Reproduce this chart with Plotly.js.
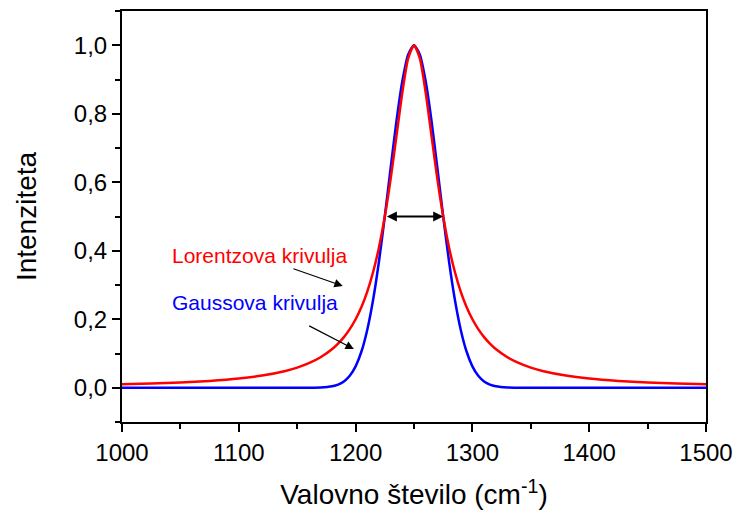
<!DOCTYPE html>
<html>
<head>
<meta charset="utf-8">
<script src="https://cdn.plot.ly/plotly-3.0.1.min.js"></script>
<style>
  html, body { margin: 0; padding: 0; background: #fff; }
  #chart { width: 737px; height: 515px; }
</style>
</head>
<body>
<div id="chart"></div>
<script>
// Wavenumber grid (cm^-1)
const wavenumber = [
  1000, 1025, 1050, 1075, 1100, 1120, 1140, 1150, 1160, 1170, 1180, 1185, 1190, 1195,
  1200, 1205, 1210, 1215, 1220, 1225, 1230, 1235, 1240, 1245, 1250,
  1255, 1260, 1265, 1270, 1275, 1280, 1285, 1290, 1295, 1300,
  1305, 1310, 1315, 1320, 1330, 1340, 1350, 1360, 1380, 1400, 1425, 1450, 1475, 1500
];

// Lorentzian profile intensity
const lorentz = [
  0.0099, 0.0122, 0.0154, 0.0200, 0.0270, 0.0357, 0.0491, 0.0588, 0.0716, 0.0890, 0.1131, 0.1289, 0.1479, 0.1712,
  0.2000, 0.2358, 0.2809, 0.3378, 0.4098, 0.5000, 0.6098, 0.7353, 0.8621, 0.9615, 1.0000,
  0.9615, 0.8621, 0.7353, 0.6098, 0.5000, 0.4098, 0.3378, 0.2809, 0.2358, 0.2000,
  0.1712, 0.1479, 0.1289, 0.1131, 0.0890, 0.0716, 0.0588, 0.0491, 0.0357, 0.0270, 0.0200, 0.0154, 0.0122, 0.0099
];

// Gaussian profile intensity
const gauss = [
  0, 0, 0, 0, 0, 0, 0, 0, 0.0001, 0.0008, 0.0044, 0.0092, 0.0184, 0.0349,
  0.0625, 0.1058, 0.1696, 0.2570, 0.3686, 0.5000, 0.6417, 0.7792, 0.8950, 0.9727, 1.0000,
  0.9727, 0.8950, 0.7792, 0.6417, 0.5000, 0.3686, 0.2570, 0.1696, 0.1058, 0.0625,
  0.0349, 0.0184, 0.0092, 0.0044, 0.0008, 0.0001, 0, 0, 0, 0, 0, 0, 0, 0
];

const xTicks = [1000, 1100, 1200, 1300, 1400, 1500];
const yTicks = [0.0, 0.2, 0.4, 0.6, 0.8, 1.0];

const font = "Arial, 'Liberation Sans', sans-serif";

const traces = [
  {
    x: wavenumber, y: gauss, type: 'scatter', mode: 'lines',
    line: { color: '#0000ff', width: 2.5, shape: 'spline', smoothing: 0.6 },
    hoverinfo: 'skip'
  },
  {
    x: wavenumber, y: lorentz, type: 'scatter', mode: 'lines',
    line: { color: '#ff0000', width: 2.5, shape: 'spline', smoothing: 0.6 },
    hoverinfo: 'skip'
  }
];

const axisCommon = {
  showgrid: false, zeroline: false,
  showline: true, linecolor: '#000', linewidth: 2, mirror: true,
  ticks: 'outside', ticklen: 8, tickwidth: 2, tickcolor: '#000',
  tickfont: { family: font, size: 24, color: '#000' }
};

const layout = {
  width: 737, height: 515,
  margin: { l: 122, r: 31, t: 11, b: 93 },
  paper_bgcolor: '#fff', plot_bgcolor: '#fff',
  showlegend: false,
  separators: ',.',
  xaxis: Object.assign({}, axisCommon, {
    range: [1000, 1500],
    tickvals: xTicks, tickformat: 'd',
    minor: { dtick: 50, tick0: 1000, ticks: 'outside', ticklen: 5, tickwidth: 2, tickcolor: '#000' },
    title: { text: 'Valovno število (cm<sup>-1</sup>)', font: { family: font, size: 28, color: '#000' }, standoff: 20 }
  }),
  yaxis: Object.assign({}, axisCommon, {
    range: [-0.1, 1.1],
    tickvals: yTicks, tickformat: '.1f',
    minor: { dtick: 0.1, tick0: 0, ticks: 'outside', ticklen: 5, tickwidth: 2, tickcolor: '#000' },
    title: { text: 'Intenziteta', font: { family: font, size: 28, color: '#000' }, standoff: 29 }
  }),
  annotations: [
    {
      x: 1041, y: 0.387, xref: 'x', yref: 'y', xanchor: 'left', yanchor: 'middle',
      text: 'Lorentzova krivulja', showarrow: false,
      font: { family: font, size: 21, color: '#ff0000' }
    },
    {
      x: 1041, y: 0.25, xref: 'x', yref: 'y', xanchor: 'left', yanchor: 'middle',
      text: 'Gaussova krivulja', showarrow: false,
      font: { family: font, size: 21, color: '#0000ff' }
    },
    {
      x: 1189, y: 0.297, ax: 1145.5, ay: 0.349, xref: 'x', yref: 'y', axref: 'x', ayref: 'y',
      text: '', showarrow: true, arrowhead: 2, arrowsize: 1.4, arrowwidth: 1.2, arrowcolor: '#000'
    },
    {
      x: 1198.5, y: 0.113, ax: 1159, ay: 0.183, xref: 'x', yref: 'y', axref: 'x', ayref: 'y',
      text: '', showarrow: true, arrowhead: 2, arrowsize: 1.4, arrowwidth: 1.2, arrowcolor: '#000'
    },
    {
      x: 1275, y: 0.5, ax: 1225.5, ay: 0.5, xref: 'x', yref: 'y', axref: 'x', ayref: 'y',
      text: '', showarrow: true, arrowside: 'end+start', arrowhead: 2, startarrowhead: 2,
      arrowsize: 1.0, startarrowsize: 1.0, arrowwidth: 2, arrowcolor: '#000'
    }
  ]
};

Plotly.newPlot('chart', traces, layout, { displayModeBar: false, staticPlot: true });
</script>
</body>
</html>
